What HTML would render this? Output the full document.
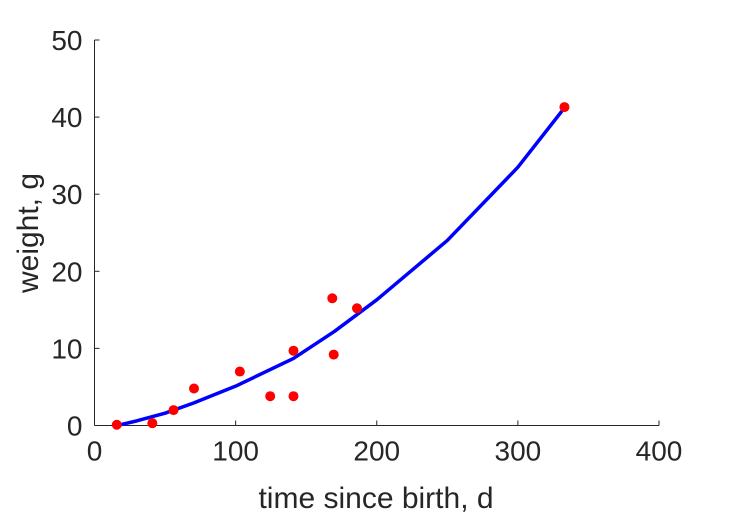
<!DOCTYPE html>
<html><head><meta charset="utf-8"><style>
body{margin:0;background:#fff;}
svg text{font-family:"Liberation Sans",sans-serif;fill:#262626;}
</style></head><body>
<svg width="729" height="521">
<g id="axes"></g>
<g id="plot"></g>
</svg>
<script>
const xTicks=[0,100,200,300,400];
const yTicks=[0,10,20,30,40,50];
const obsT=[15.8,41,56,70.5,103,124.5,141,141,168.5,169.5,186,333];
const obsW=[0.1,0.3,2,4.8,7,3.8,3.8,9.7,16.5,9.2,15.2,41.3];
const fitT=[16,30,50,70,100,141,170,200,250,300,333];
const fitW=[0,0.6,1.6,2.9,5.1,8.7,12.2,16.3,24,33.5,41.2];
const X0=94.5,X1=659,Y0=425.5,Y1=40;
const sx=v=>X0+(v-0)/400*(X1-X0);
const sy=v=>Y0-(v-0)/50*(Y0-Y1);
const NS="http://www.w3.org/2000/svg";
const ax=document.getElementById('axes'),pl=document.getElementById('plot');
function mk(tag,at,parent){const e=document.createElementNS(NS,tag);for(const k in at)e.setAttribute(k,at[k]);parent.appendChild(e);return e;}
let l=mk('line',{x1:X0,y1:Y0,x2:X1,y2:Y0,stroke:'#262626','stroke-width':1},ax);


l=mk('line',{x1:X0,y1:Y0,x2:X0,y2:Y1,stroke:'#262626','stroke-width':1},ax);


xTicks.forEach(v=>{
 const t=mk('line',{x1:sx(v),y1:Y0,x2:sx(v),y2:Y0-5,stroke:'#262626'},ax);
 
 
 const tx=mk('text',{x:sx(v),y:Y0+35,'text-anchor':'middle','font-size':28},ax);tx.textContent=v;
 
 
});
yTicks.forEach(v=>{
 const t=mk('line',{x1:X0,y1:sy(v),x2:X0+5,y2:sy(v),stroke:'#262626'},ax);
 
 
 const tx=mk('text',{x:X0-12,y:sy(v)+10,'text-anchor':'end','font-size':28},ax);tx.textContent=v;
 
 
});
let t=mk('text',{x:376,y:508,'text-anchor':'middle','font-size':30},ax);t.textContent='time since birth, d';


t=mk('text',{x:0,y:0,'text-anchor':'middle','font-size':30,transform:'translate(38,233) rotate(-90)'},ax);t.textContent='weight, g';


const p=mk('polyline',{points:fitT.map((v,i)=>sx(v)+','+sy(fitW[i])).join(' '),fill:'none',stroke:'#0000ff','stroke-width':3.5,'stroke-linejoin':'round'},pl);


obsT.forEach((v,i)=>{
 const c=mk('circle',{cx:sx(v),cy:sy(obsW[i]),r:5,fill:'#ff0000'},pl);
 
 
});
</script>
</body></html>
